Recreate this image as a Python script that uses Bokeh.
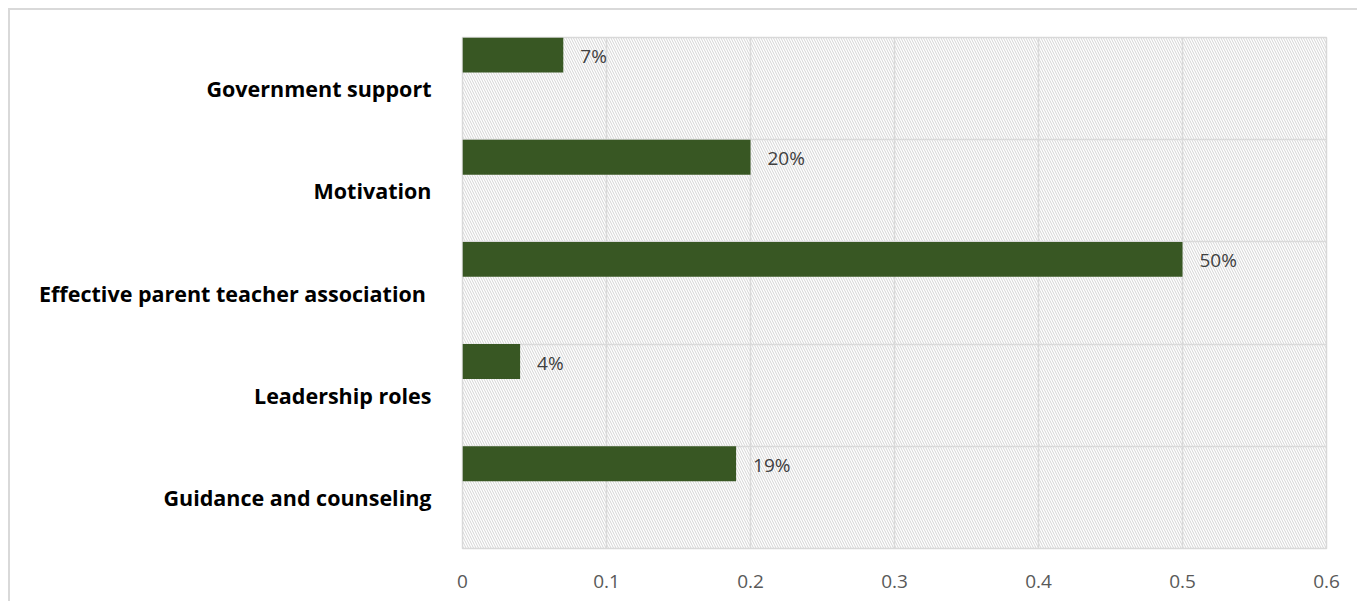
from bokeh.plotting import figure
from bokeh.models import Range1d, FixedTicker, BoxAnnotation, ColumnDataSource, LabelSet
from bokeh.core.properties import value
from bokeh.embed import file_html
from bokeh.resources import INLINE

categories = ["Guidance and counseling", "Leadership roles",
              "Effective parent teacher association ", "Motivation", "Government support"]
values = [0.19, 0.04, 0.50, 0.20, 0.07]
x_ticks = [0, 0.1, 0.2, 0.3, 0.4, 0.5, 0.6]
x_tick_labels = ["0", "0.1", "0.2", "0.3", "0.4", "0.5", "0.6"]

BAR_H = 0.342
BAR_OFF = 0.5 - BAR_H / 2

idx = list(range(len(categories)))
src = ColumnDataSource(dict(
    y=[i + BAR_OFF for i in idx],
    v=values,
    lab=[f"{round(v * 100)}%" for v in values],
))

W, H = 1349, 593
p = figure(width=W, height=H, output_backend="svg", toolbar_location=None,
           x_range=Range1d(0, 0.6), y_range=Range1d(-0.5, len(categories) - 0.5),
           min_border_left=452, min_border_right=33, min_border_top=27, min_border_bottom=55)
p.styles = {"margin-left": "8px", "margin-top": "8px",
            "border-top": "2px solid #d9d9d9", "border-left": "2px solid #d9d9d9"}

p.outline_line_color = "#d9d9d9"
p.outline_line_width = 1.5
p.background_fill_color = "white"

bg = BoxAnnotation(level="image", fill_alpha=0, line_alpha=0,
                   hatch_pattern="\\", hatch_color="#d4d4d4", hatch_scale=5, hatch_weight=1)
p.add_layout(bg)

p.hbar(y="y", right="v", left=0, height=BAR_H, source=src,
       fill_color="#385723", line_color=None)

labels = LabelSet(x="v", y="y", text="lab", source=src, x_offset=17, y_offset=-1,
                  text_baseline="middle", text_align="left",
                  text_font=value("Open Sans"), text_font_size="19px", text_color="#404040")
p.add_layout(labels)

# axes
p.xaxis.ticker = FixedTicker(ticks=x_ticks)
p.xaxis.major_label_overrides = {t: l for t, l in zip(x_ticks, x_tick_labels)}
p.xaxis.axis_line_color = None
p.xaxis.major_tick_line_color = None
p.xaxis.minor_tick_line_color = None
p.xaxis.major_label_standoff = 20
p.xaxis.major_label_text_font = "Open Sans"
p.xaxis.major_label_text_font_size = "19px"
p.xaxis.major_label_text_color = "#595959"

p.yaxis.ticker = FixedTicker(ticks=idx)
p.yaxis.major_label_overrides = {i: c for i, c in zip(idx, categories)}
p.yaxis.axis_line_color = None
p.yaxis.major_tick_line_color = None
p.yaxis.minor_tick_line_color = None
p.yaxis.major_label_standoff = 25
p.yaxis.major_label_text_font = "Open Sans"
p.yaxis.major_label_text_font_style = "bold"
p.yaxis.major_label_text_font_size = "21.5px"
p.yaxis.major_label_text_color = "black"

p.xgrid.grid_line_color = "#d9d9d9"
p.xgrid.grid_line_width = 1.5
p.ygrid.ticker = FixedTicker(ticks=[i - 0.5 for i in idx] + [len(idx) - 0.5])
p.ygrid.grid_line_color = "#d9d9d9"
p.ygrid.grid_line_width = 1.5

open("out.html", "w").write(file_html(p, INLINE))
